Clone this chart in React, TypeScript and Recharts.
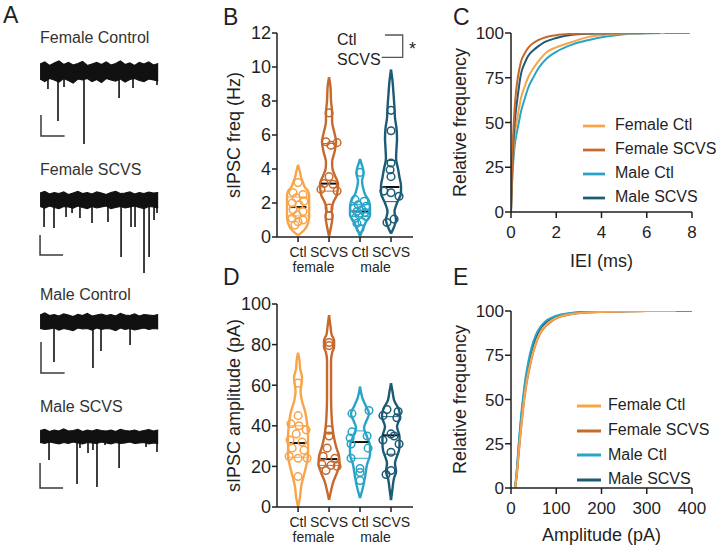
import React from 'react';
import { ComposedChart, Line, Area, Scatter, XAxis, YAxis, Legend } from 'recharts';

const FONT = '"Liberation Sans", Arial, Helvetica, sans-serif';
const INK = '#1f1f1f';
const C_FCTL = '#F8A54A';
const C_FSCVS = '#C6692C';
const C_MCTL = '#29A4C6';
const C_MSCVS = '#1C5B75';

// ---------------- Panel A: example traces ----------------
const traceLabels = ['Female Control', 'Female SCVS', 'Male Control', 'Male SCVS'];
const bandTime = [0, 0.4, 0.8, 1.2, 1.6, 2, 2.4, 2.8, 3.2, 3.6, 4, 4.4, 4.8, 5.2, 5.6, 6, 6.4, 6.8, 7.2, 7.6, 8, 8.4, 8.8, 9.2, 9.6, 10];

const fCtlHi = [16, 20, 13, 18, 22, 15, 19, 14, 17, 21, 13, 16, 19, 15, 20, 14, 17, 22, 15, 18, 13, 19, 16, 20, 14, 17];
const fCtlLo = [-14, -19, -13, -16, -20, -13, -17, -22, -14, -16, -13, -19, -15, -21, -13, -16, -18, -14, -20, -15, -13, -17, -19, -14, -16, -18];
const fScvsHi = [14, 17, 12, 15, 13, 16, 11, 14, 17, 13, 15, 12, 16, 14, 11, 15, 17, 13, 14, 16, 12, 15, 13, 16, 14, 15];
const fScvsLo = [-13, -16, -12, -15, -17, -13, -14, -16, -12, -15, -17, -13, -16, -14, -12, -17, -15, -13, -16, -14, -12, -15, -17, -13, -14, -16];
const mCtlHi = [14, 18, 13, 15, 12, 16, 14, 11, 15, 13, 17, 12, 14, 16, 13, 15, 12, 17, 14, 13, 16, 12, 15, 14, 13, 15];
const mCtlLo = [-13, -15, -14, -12, -16, -13, -15, -17, -12, -14, -13, -16, -12, -15, -13, -14, -17, -12, -15, -13, -16, -14, -12, -15, -13, -14];
const mScvsHi = [13, 15, 11, 14, 12, 16, 12, 13, 15, 11, 14, 12, 15, 13, 12, 14, 11, 15, 13, 12, 14, 11, 13, 15, 12, 14];
const mScvsLo = [-11, -13, -10, -12, -14, -11, -13, -10, -12, -14, -11, -12, -13, -10, -12, -14, -11, -13, -12, -10, -13, -12, -11, -14, -12, -13];

const fCtlSpikeT = [0.67, 1.52, 2.03, 3.72, 6.69, 7.87, 9.9];
const fCtlSpikeV = [-34, -98, -30, -144, -52, -32, -26];
const fScvsSpikeT = [0.34, 1.18, 2.2, 2.71, 3.38, 4.4, 5.75, 6.86, 7.7, 8.04, 8.8, 9.23, 9.65, 9.9];
const fScvsSpikeV = [-54, -56, -34, -26, -36, -46, -44, -114, -54, -54, -146, -114, -40, -26];
const mCtlSpikeT = [1.18, 4.48, 5.16, 7.62];
const mCtlSpikeV = [-80, -92, -58, -46];
const mScvsSpikeT = [0.76, 3.13, 3.38, 4.06, 4.48, 4.82, 5.5, 6.69, 8.97, 9.9];
const mScvsSpikeV = [-46, -94, -22, -32, -26, -100, -16, -62, -20, -30];

// scale bars: [start time (s), duration (s), top (pA), height (pA)]
const fCtlBar = [0.08, 2, -86, 42];
const fScvsBar = [0, 1.95, -70, 40];
const mCtlBar = [0.08, 2, -40, 62];
const mScvsBar = [0, 1.95, -52, 50];

const traces = [
  { hi: fCtlHi, lo: fCtlLo, st: fCtlSpikeT, sv: fCtlSpikeV, bar: fCtlBar },
  { hi: fScvsHi, lo: fScvsLo, st: fScvsSpikeT, sv: fScvsSpikeV, bar: fScvsBar },
  { hi: mCtlHi, lo: mCtlLo, st: mCtlSpikeT, sv: mCtlSpikeV, bar: mCtlBar },
  { hi: mScvsHi, lo: mScvsLo, st: mScvsSpikeT, sv: mScvsSpikeV, bar: mScvsBar },
];
const traceTops = [57, 185, 307, 422];
const traceLabelY = [43, 175, 300, 412];

// ---------------- Panels B & D: violins ----------------
const catLabels = ['Ctl', 'SCVS', 'Ctl', 'SCVS'];
const catPos = [1, 2, 3, 4];
const groupLabels = ['female', 'male'];
const groupPos = [1.5, 3.5];

// B: sIPSC frequency (Hz)
const bLevels = [
  [0.1, 0.4, 0.8, 1.2, 1.6, 2.0, 2.4, 2.7, 2.9, 3.2, 3.5, 3.8, 4.25],
  [0.05, 0.6, 1.2, 1.6, 2.0, 2.5, 3.1, 3.6, 4.0, 4.4, 5.0, 5.6, 6.2, 6.8, 7.3, 8.0, 8.8, 9.4],
  [0.05, 0.5, 0.9, 1.3, 1.7, 2.1, 2.5, 2.9, 3.3, 3.7, 4.0, 4.3, 4.6],
  [0.2, 0.6, 1.0, 1.5, 2.0, 2.6, 3.0, 3.5, 4.0, 4.6, 5.2, 5.8, 6.4, 7.0, 7.6, 8.4, 9.2, 9.85],
];
const bDens = [
  [0, 0.57, 0.95, 1.05, 1.05, 1.05, 1.05, 0.95, 0.67, 0.48, 0.29, 0.19, 0],
  [0, 0.19, 0.33, 0.24, 0.38, 0.76, 0.86, 0.57, 0.33, 0.29, 0.52, 0.67, 0.48, 0.29, 0.29, 0.19, 0.14, 0],
  [0, 0.29, 0.57, 0.95, 0.95, 0.86, 0.48, 0.29, 0.19, 0.33, 0.29, 0.14, 0],
  [0, 0.29, 0.48, 0.33, 0.57, 0.95, 0.95, 0.81, 0.67, 0.48, 0.52, 0.57, 0.52, 0.38, 0.33, 0.24, 0.14, 0],
];
const bMedian = [1.76, 3.14, 1.5, 2.94];
const bQ1 = [1.24, 2.7, 1.2, 2.08];
const bQ3 = [2.35, 5.5, 1.9, 4.5];
const bVals = [
  [3.2, 2.6, 2.5, 2.3, 2.1, 2.0, 1.9, 1.6, 1.5, 1.3, 1.1, 1.0, 0.9, 0.7],
  [7.3, 5.6, 5.55, 5.4, 3.55, 3.15, 3.1, 2.8, 2.7, 1.7, 1.25],
  [3.8, 2.2, 2.1, 1.9, 1.8, 1.7, 1.6, 1.5, 1.45, 1.3, 1.2, 1.1, 0.9, 0.8, 0.5],
  [7.45, 6.25, 4.35, 3.95, 3.55, 2.7, 2.6, 2.4, 1.05, 0.85],
];
const bJit = [
  [0, -0.16, 0.16, -0.06, 0.19, -0.19, 0.03, -0.16, 0.16, -0.03, -0.19, 0.16, 0, -0.1],
  [0, -0.1, 0.26, 0.06, 0, -0.16, 0.13, -0.26, 0.26, 0, 0],
  [0, -0.16, 0.13, -0.06, 0.19, -0.19, 0.06, -0.1, 0.16, -0.03, 0.19, -0.16, 0.06, -0.1, 0],
  [0, 0, 0, -0.03, 0, -0.23, 0, 0.26, 0.1, -0.13],
];

// D: sIPSC amplitude (pA)
const dLevels = [
  [0, 5, 10, 16, 20, 25, 30, 35, 41, 47, 52, 57, 61, 64, 68, 72, 76],
  [3.5, 8, 12, 17, 21, 25, 29, 34, 39, 45, 55, 65, 72, 76, 79, 82, 85, 89, 94.5],
  [4.4, 10, 15, 21, 26, 30, 34.6, 39, 42, 46, 49.5, 53.5, 59.3],
  [3.4, 9, 14.3, 17.4, 21.6, 25, 28, 31, 34.6, 39.6, 44.5, 47.8, 52.7, 57, 61],
];
const dDens = [
  [0, 0.19, 0.29, 0.57, 0.76, 0.95, 0.95, 0.95, 0.86, 0.67, 0.38, 0.24, 0.33, 0.38, 0.19, 0.14, 0],
  [0, 0.19, 0.38, 0.76, 1.0, 0.95, 0.71, 0.48, 0.33, 0.24, 0.19, 0.19, 0.19, 0.29, 0.48, 0.48, 0.24, 0.14, 0],
  [0, 0.29, 0.48, 0.67, 0.95, 0.95, 0.67, 0.38, 0.57, 0.86, 0.57, 0.24, 0],
  [0, 0.14, 0.29, 0.48, 0.38, 0.57, 0.76, 0.81, 0.81, 0.57, 0.86, 0.76, 0.29, 0.14, 0],
];
const dMedian = [31.5, 23.6, 32, 35.3];
const dQ1 = [24.5, 20.5, 24, 26];
const dQ3 = [40, 36, 37.5, 44.5];
const dVals = [
  [61, 45, 41, 40, 38, 36, 33, 32, 29, 28, 25, 24, 24, 15],
  [81, 79.5, 38, 35, 29, 25, 24, 21, 20.5, 20, 18],
  [47.5, 46, 37, 35, 34, 31, 29, 24, 19, 17, 13],
  [48, 47, 45, 44, 36, 35, 33, 31, 27, 18, 16],
];
const dJit = [
  [0, 0, -0.23, 0.03, 0.26, -0.06, -0.26, 0.13, -0.19, 0.19, -0.29, 0.29, 0, 0],
  [0, 0, 0, 0, -0.06, -0.19, 0.19, -0.23, 0.06, 0.26, -0.1],
  [0.29, -0.26, -0.26, 0.23, -0.32, -0.29, 0.26, -0.29, 0, 0, 0],
  [-0.13, 0.23, -0.26, 0.19, 0, 0.1, -0.26, 0.26, 0, 0, -0.16],
];

const groupColors = [C_FCTL, C_FSCVS, C_MCTL, C_MSCVS];

// ---------------- Panels C & E: cumulative distributions ----------------
const seriesNames = ['Female Ctl', 'Female SCVS', 'Male Ctl', 'Male SCVS'];

const ieiFCtlX = [0, 0.03, 0.08, 0.15, 0.22, 0.3, 0.44, 0.6, 0.75, 1.0, 1.2, 1.6, 2.0, 2.7, 3.4, 4.2, 5.0, 6.0, 6.8];
const ieiFCtlY = [0, 13, 28, 41, 48, 54, 63.5, 70, 75, 80.5, 84, 89.5, 92, 95, 97.7, 99, 99.7, 99.9, 100];
const ieiFScvsX = [0, 0.03, 0.08, 0.15, 0.22, 0.3, 0.44, 0.6, 0.75, 1.0, 1.2, 1.5, 2.0, 2.7, 3.5, 4.5, 5.5, 6.6];
const ieiFScvsY = [0, 18, 38, 56, 67, 75, 84, 88.5, 91.6, 94.5, 96, 97.5, 98.8, 99.5, 99.8, 99.95, 100, 100];
const ieiMCtlX = [0, 0.03, 0.08, 0.15, 0.22, 0.3, 0.44, 0.6, 0.75, 1.0, 1.2, 1.6, 2.0, 2.7, 3.4, 4.2, 5.0, 6.0, 7.0, 7.9];
const ieiMCtlY = [0, 11, 24, 35.5, 42, 47, 56, 63, 69, 75.5, 80, 86, 89.5, 93.5, 96, 98, 99.3, 99.8, 99.95, 100];
const ieiMScvsX = [0, 0.03, 0.08, 0.15, 0.22, 0.3, 0.44, 0.6, 0.75, 1.0, 1.2, 1.5, 2.0, 2.7, 3.5, 4.5, 5.2];
const ieiMScvsY = [0, 15, 32, 48, 57, 65, 77, 83, 87, 90.5, 92.5, 95, 97.2, 99, 99.6, 99.9, 100];

const ampFCtlX = [9, 12, 15, 18, 22, 27, 32, 38, 45, 55, 65, 75, 90, 110, 130, 160, 200, 250, 300, 365];
const ampFCtlY = [0, 6, 14, 23, 34, 46, 56, 65, 73, 82, 88, 91.5, 94.7, 97, 98.2, 99, 99.5, 99.8, 99.95, 100];
const ampFScvsX = [9, 12, 15, 18, 22, 27, 32, 38, 45, 55, 65, 75, 90, 110, 130, 160, 200, 250, 300, 360];
const ampFScvsY = [0, 5, 13, 22, 33, 45, 55, 64, 72.5, 81.5, 87.5, 91, 94.3, 96.8, 98, 98.9, 99.5, 99.8, 99.95, 100];
const ampMCtlX = [9, 12, 15, 18, 22, 27, 32, 38, 45, 55, 65, 75, 90, 110, 130, 160, 200, 250, 300, 350, 400];
const ampMCtlY = [0, 8, 18, 28, 40, 52, 62, 71, 79, 86.5, 91, 94, 96.3, 98, 98.8, 99.4, 99.7, 99.9, 100, 100, 100];
const ampMScvsX = [9, 12, 15, 18, 22, 27, 32, 38, 45, 55, 65, 75, 90, 110, 130, 160, 200, 250, 300, 340];
const ampMScvsY = [0, 7, 16, 26, 38, 50, 60, 69, 77, 85, 90, 93, 95.8, 97.7, 98.6, 99.3, 99.7, 99.9, 100, 100];

const ieiTicks = [0, 2, 4, 6, 8];
const ampTicks = [0, 100, 200, 300, 400];
const pctTicks = [0, 25, 50, 75, 100];
const freqTicks = [0, 2, 4, 6, 8, 10, 12];
const ampYTicks = [0, 20, 40, 60, 80, 100];

// ---------------- helpers ----------------
const zip = (xs: number[], ys: number[]) => xs.map((x, i) => ({ x, y: ys[i] }));

const HALF = 0.34; // category units per unit of density
const MED_HALF = 0.27;
const X_DOMAIN: [number, number] = [0.32, 4.71];

function widthAt(levels: number[], dens: number[], v: number) {
  for (let i = 0; i < levels.length - 1; i++) {
    if (v >= levels[i] && v <= levels[i + 1]) {
      const f = (v - levels[i]) / (levels[i + 1] - levels[i]);
      return (dens[i] + f * (dens[i + 1] - dens[i])) * HALF;
    }
  }
  return 0;
}

const ring = (color: string) => (props: any) => (
  <circle cx={props.cx} cy={props.cy} r={3.8} fill="none" stroke={color} strokeWidth={1.5} />
);

function TraceChart({ tr }: { tr: (typeof traces)[number] }) {
  const band = bandTime.map((t, i) => ({ t, band: [tr.lo[i], tr.hi[i]] }));
  const spikes = tr.st.flatMap((t, i) => [
    { t, v: 0 },
    { t, v: tr.sv[i] },
    { t, v: 0 },
  ]);
  const [t0, dt, top, dv] = tr.bar;
  const bar = [
    { t: t0, v: top },
    { t: t0, v: top - dv },
    { t: t0 + dt, v: top - dv },
  ];
  return (
    <ComposedChart width={140} height={100} data={band} margin={{ top: 0, right: 0, bottom: 0, left: 0 }}>
      <XAxis type="number" dataKey="t" domain={[-0.85, 11]} hide allowDataOverflow />
      <YAxis type="number" domain={[-170, 30]} hide allowDataOverflow />
      <Line data={spikes} dataKey="v" type="linear" stroke="#111" strokeWidth={1.6} dot={false} activeDot={false} isAnimationActive={false} />
      <Area dataKey="band" type="linear" stroke="#111" strokeWidth={1.2} fill="#111" fillOpacity={1} isAnimationActive={false} />
      <Line data={bar} dataKey="v" type="linear" stroke="#3a3a3a" strokeWidth={1.5} dot={false} activeDot={false} isAnimationActive={false} />
    </ComposedChart>
  );
}

function ViolinPanel(props: {
  levels: number[][]; dens: number[][]; med: number[]; q1: number[]; q3: number[];
  vals: number[][]; jit: number[][]; yMax: number; yTicks: number[]; yLabel: string; top: number;
}) {
  const { levels, dens, med, q1, q3, vals, jit, yMax, yTicks, yLabel, top } = props;
  const items: React.ReactNode[] = [];
  catPos.forEach((pos, g) => {
    const color = groupColors[g];
    const L = levels[g];
    const D = dens[g];
    const left = L.map((l, i) => ({ x: pos - D[i] * HALF, y: l })).reverse();
    const right = L.map((l, i) => ({ x: pos + D[i] * HALF, y: l })).reverse();
    const common = { xAxisId: 'cat', dataKey: 'y', dot: false, activeDot: false, isAnimationActive: false } as any;
    items.push(<Line key={`l${g}`} {...common} data={left} type="monotoneY" stroke={color} strokeWidth={2.4} strokeLinejoin="round" />);
    items.push(<Line key={`r${g}`} {...common} data={right} type="monotoneY" stroke={color} strokeWidth={2.4} strokeLinejoin="round" />);
    [q1[g], q3[g]].forEach((q, k) => {
      const w = widthAt(L, D, q);
      items.push(
        <Line key={`q${g}${k}`} {...common} data={[{ x: pos - w, y: q }, { x: pos + w, y: q }]} type="linear" stroke={color} strokeWidth={1} />
      );
    });
    items.push(
      <Scatter key={`s${g}`} xAxisId="cat" data={vals[g].map((v, j) => ({ x: pos + jit[g][j], y: v }))} shape={ring(color)} isAnimationActive={false} />
    );
    items.push(
      <Line key={`m${g}`} {...common} data={[{ x: pos - MED_HALF, y: med[g] }, { x: pos + MED_HALF, y: med[g] }]} type="linear" stroke="#111" strokeWidth={2} />
    );
  });
  return (
    <ComposedChart width={230} height={280} margin={{ top, right: 17, bottom: 0, left: 0 }}>
      <XAxis
        xAxisId="cat" type="number" dataKey="x" domain={X_DOMAIN} ticks={catPos} interval={0} allowDataOverflow
        tickFormatter={(v: number) => catLabels[Math.round(v) - 1]}
        height={20} tickSize={5} tickMargin={5} stroke={INK} strokeWidth={1.5}
        tick={{ fontSize: 14, fill: INK }}
      />
      <XAxis
        xAxisId="grp" type="number" dataKey="x" domain={X_DOMAIN} ticks={groupPos} interval={0} allowDataOverflow
        tickFormatter={(v: number) => groupLabels[groupPos.indexOf(v)]}
        height={23} tickSize={0} tickMargin={5} axisLine={false} tickLine={false}
        tick={{ fontSize: 14, fill: INK }}
      />
      <YAxis
        type="number" dataKey="y" domain={[0, yMax]} ticks={yTicks} interval={0} allowDataOverflow
        width={77} tickSize={5} tickMargin={1} stroke={INK} strokeWidth={1.5}
        tick={{ fontSize: 18, fill: INK }}
        label={{ value: yLabel, angle: -90, position: 'center', dx: -5, style: { fontSize: 18, fill: INK } }}
      />
      {items}
    </ComposedChart>
  );
}

function CdfPanel(props: {
  series: { name: string; color: string; pts: { x: number; y: number }[] }[];
  xMax: number; xTicks: number[]; xLabel: string; height: number; top: number; xAxisH: number;
  labelOffset: number; legendLeft: number; iconSize: number; textGap: number;
}) {
  const { series, xMax, xTicks, xLabel, height, top, xAxisH, labelOffset, legendLeft, iconSize, textGap } = props;
  return (
    <ComposedChart width={300} height={height} margin={{ top, right: 28, bottom: 0, left: 0 }}>
      <XAxis
        type="number" dataKey="x" domain={[0, xMax]} ticks={xTicks} interval={0} allowDataOverflow
        height={xAxisH} tickSize={6} tickMargin={8} stroke={INK} strokeWidth={1.5}
        tick={{ fontSize: 17, fill: INK }}
        label={{ value: xLabel, position: 'insideBottom', offset: labelOffset, style: { fontSize: 18, fill: INK } }}
      />
      <YAxis
        type="number" domain={[0, 100]} ticks={pctTicks} interval={0} allowDataOverflow
        width={91} tickSize={6} tickMargin={1} stroke={INK} strokeWidth={1.5}
        tick={{ fontSize: 17, fill: INK }}
        label={{ value: 'Relative frequency', angle: -90, position: 'center', dx: -6, style: { fontSize: 18, fill: INK } }}
      />
      {series.map((s) => (
        <Line
          key={s.name} name={s.name} data={s.pts} dataKey="y" type="monotone"
          stroke={s.color} strokeWidth={2} dot={false} activeDot={false} isAnimationActive={false}
        />
      ))}
      <Legend
        layout="vertical" align="center" verticalAlign="middle" iconType="plainline" iconSize={iconSize}
        wrapperStyle={{ left: legendLeft, top: 113, width: 160, height: 'auto', fontSize: 16, lineHeight: '24px', whiteSpace: 'nowrap' }}
        formatter={(value: any) => <span style={{ color: INK, marginLeft: textGap }}>{value}</span>}
      />
    </ComposedChart>
  );
}

export default function App() {
  const ieiSeries = [
    { name: seriesNames[2], color: C_MCTL, pts: zip(ieiMCtlX, ieiMCtlY) },
    { name: seriesNames[0], color: C_FCTL, pts: zip(ieiFCtlX, ieiFCtlY) },
    { name: seriesNames[3], color: C_MSCVS, pts: zip(ieiMScvsX, ieiMScvsY) },
    { name: seriesNames[1], color: C_FSCVS, pts: zip(ieiFScvsX, ieiFScvsY) },
  ];
  const ampSeries = [
    { name: seriesNames[3], color: C_MSCVS, pts: zip(ampMScvsX, ampMScvsY) },
    { name: seriesNames[2], color: C_MCTL, pts: zip(ampMCtlX, ampMCtlY) },
    { name: seriesNames[1], color: C_FSCVS, pts: zip(ampFScvsX, ampFScvsY) },
    { name: seriesNames[0], color: C_FCTL, pts: zip(ampFCtlX, ampFCtlY) },
  ];
  return (
    <div style={{ position: 'absolute', left: 0, top: 0, width: 720, height: 550, background: '#fff', fontFamily: FONT, overflow: 'hidden' }}>
      {traces.map((tr, i) => (
        <div key={i} style={{ position: 'absolute', left: 30, top: traceTops[i] }}>
          <TraceChart tr={tr} />
        </div>
      ))}
      <div style={{ position: 'absolute', left: 200, top: 0 }}>
        <ViolinPanel levels={bLevels} dens={bDens} med={bMedian} q1={bQ1} q3={bQ3} vals={bVals} jit={bJit}
          yMax={12} yTicks={freqTicks} yLabel="sIPSC freq (Hz)" top={33} />
      </div>
      <div style={{ position: 'absolute', left: 200, top: 270 }}>
        <ViolinPanel levels={dLevels} dens={dDens} med={dMedian} q1={dQ1} q3={dQ3} vals={dVals} jit={dJit}
          yMax={100} yTicks={ampYTicks} yLabel="sIPSC amplitude (pA)" top={34} />
      </div>
      <div style={{ position: 'absolute', left: 420, top: 0 }}>
        <CdfPanel series={ieiSeries} xMax={8} xTicks={ieiTicks} xLabel="IEI (ms)" height={280} top={33} xAxisH={68}
          labelOffset={13} legendLeft={163} iconSize={22} textGap={6} />
      </div>
      <div style={{ position: 'absolute', left: 420, top: 280 }}>
        <CdfPanel series={ampSeries} xMax={400} xTicks={ampTicks} xLabel="Amplitude (pA)" height={270} top={31} xAxisH={62}
          labelOffset={9} legendLeft={157} iconSize={24} textGap={3} />
      </div>
      <svg width={720} height={550} style={{ position: 'absolute', left: 0, top: 0, pointerEvents: 'none' }}>
        <g fontFamily={FONT} fill={INK}>
          <text x={3} y={23} fontSize={23}>A</text>
          <text x={223} y={25} fontSize={23}>B</text>
          <text x={453} y={25} fontSize={23}>C</text>
          <text x={223} y={285} fontSize={23}>D</text>
          <text x={453} y={285} fontSize={23}>E</text>
          {traceLabels.map((t, i) => (
            <text key={t} x={40} y={traceLabelY[i]} fontSize={16} fill="#333">{t}</text>
          ))}
          <text x={337} y={45} fontSize={16}>Ctl</text>
          <text x={337} y={65} fontSize={16}>SCVS</text>
          <text x={409} y={55} fontSize={18}>*</text>
        </g>
        <path d="M385 35 H402.7 V57.3 H381.7" fill="none" stroke="#555" strokeWidth={1.3} />
      </svg>
    </div>
  );
}
